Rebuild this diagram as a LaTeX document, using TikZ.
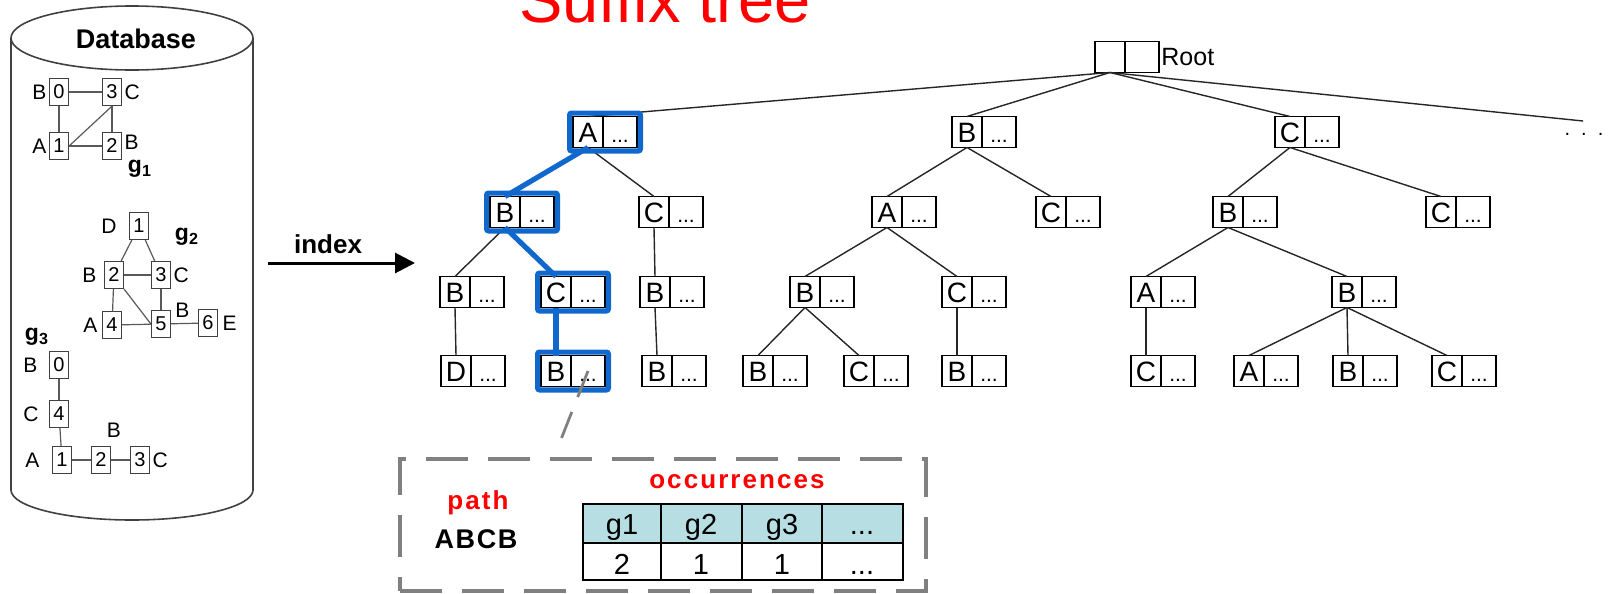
\documentclass[tikz,border=0pt]{standalone}
\usepackage{fontspec}
\setmainfont{Liberation Sans}
\usetikzlibrary{arrows.meta,positioning,fit}

\definecolor{hlblue}{RGB}{16,104,204}
\definecolor{hdrcyan}{RGB}{183,222,226}
\definecolor{boxgray}{RGB}{128,128,128}

\begin{document}
\begin{tikzpicture}[x=0.5pt,y=-0.5pt,
  lcell/.style={draw,line width=0.75pt,outer sep=0pt,inner sep=0pt,minimum width=15pt,minimum height=15.5pt,text height=10pt,text depth=0pt,font=\fontsize{14}{16}\selectfont},
  dcell/.style={lcell,minimum width=17pt,font=\fontsize{10.5}{12}\selectfont},
  branch/.style={line width=0.7pt,black!85},
  hlbranch/.style={line width=2.6pt,hlblue},
  hlbox/.style={draw=hlblue,line width=2.6pt,inner sep=1.7pt,rounded corners=1pt},
  vx/.style={draw=black!75,line width=0.6pt,inner sep=0pt,minimum width=9.5pt,minimum height=13.5pt,font=\fontsize{10}{12}\selectfont},
  vl/.style={inner sep=1pt,font=\fontsize{10.5}{12}\selectfont},
  vedge/.style={black!65,line width=0.6pt},
  gname/.style={font=\bfseries\fontsize{11.5}{13}\selectfont},
  redlbl/.style={text=red,anchor=base,font=\bfseries\fontsize{13}{16}\selectfont\addfontfeature{LetterSpace=8}},
  cellt/.style={anchor=base,inner sep=0pt,font=\fontsize{14.5}{17}\selectfont},
  tabline/.style={line width=0.75pt},
  dbox/.style={draw=boxgray,line width=1.6pt,dash pattern=on 21pt off 10pt}
]
\clip (0,0) rectangle (1608,594);

% title, partly off the top edge
\node[anchor=base,text=red,font=\fontsize{32.5}{36}\selectfont] (ttl) at (665,22) {Suffix tree};

% database cylinder
\draw[black!75,line width=0.8pt] (132,38) ellipse [x radius=60.5pt,y radius=16pt];
\draw[black!75,line width=0.8pt] (11,38) -- (11,490) arc[start angle=180,end angle=360,x radius=60.5pt,y radius=15pt] -- (253,38);
\node[anchor=base,font=\bfseries\fontsize{13.5}{16}\selectfont] (dbname) at (136,48) {Database};

% g1
\node[vx,label={[vl]left:B}] (g1-0) at (59,92) {0};
\node[vx,label={[vl]right:C}] (g1-3) at (112,92) {3};
\node[vx,label={[vl]left:A}] (g1-1) at (59,146) {1};
\node[vx,label={[vl,yshift=2pt]right:B}] (g1-2) at (112,146) {2};
\node[gname] (g1-name) at (140,169) {g\textsubscript{1}};
\draw[vedge] (g1-0) -- (g1-3);
\draw[vedge] (g1-0) -- (g1-1);
\draw[vedge] (g1-3) -- (g1-2);
\draw[vedge] (g1-1) -- (g1-2);
\draw[vedge] (g1-1.east) -- (g1-3.south);

% g2
\node[vx,label={[vl,label distance=5pt]left:D}] (g2-1) at (139,226) {1};
\node[vx,label={[vl,label distance=2.5pt]left:B}] (g2-2) at (114,275) {2};
\node[vx,label={[vl]right:C}] (g2-3) at (161,275) {3};
\node[vx,label={[vl,label distance=1pt]left:A}] (g2-4) at (112,325) {4};
\node[vx] (g2-5) at (161,324) {5};
\node[vx,label={[vl,label distance=1pt]right:E},label={[vl,xshift=-3pt,yshift=6.5pt]left:B}] (g2-6) at (208,323) {6};
\node[gname] (g2-name) at (187,237) {g\textsubscript{2}};
\draw[vedge] (g2-1) -- (g2-2);
\draw[vedge] (g2-1) -- (g2-3);
\draw[vedge] (g2-2) -- (g2-3);
\draw[vedge] (g2-2) -- (g2-4);
\draw[vedge] (g2-2.south east) -- (g2-5.west);
\draw[vedge] (g2-3) -- (g2-5);
\draw[vedge] (g2-4) -- (g2-5);
\draw[vedge] (g2-5) -- (g2-6);

% g3
\node[gname] (g3-name) at (37,337) {g\textsubscript{3}};
\node[vx,label={[vl,label distance=4.5pt]left:B}] (g3-0) at (59,365) {0};
\node[vx,label={[vl,label distance=4pt]left:C}] (g3-4) at (59,414) {4};
\node[vx,label={[vl,label distance=5pt]left:A}] (g3-1) at (62,460) {1};
\node[vx,label={[vl,label distance=3pt,xshift=6.5pt]above:B}] (g3-2) at (101,460) {2};
\node[vx,label={[vl]right:C}] (g3-3) at (140,460) {3};
\draw[vedge] (g3-0) -- (g3-4);
\draw[vedge] (g3-4) -- (g3-1);
\draw[vedge] (g3-1) -- (g3-2);
\draw[vedge] (g3-2) -- (g3-3);

% index arrow
\coordinate (ia) at (268,263);
\coordinate (ib) at (415,263);
\draw[line width=1.5pt,-{Triangle[length=10pt,width=10pt]}] (ia) -- (ib);
\node[anchor=base,font=\bfseries\fontsize{13}{15}\selectfont] (idx) at (328,253) {index};

% suffix tree
\node[lcell] (r) at (1110,57) {};
\node[dcell,right=0pt of r] (r-d) {};
\node[right=1pt of r-d,inner sep=0pt,font=\fontsize{12.5}{14}\selectfont] (rootname) {Root};
\coordinate (more-end) at (1583,121);
\node[anchor=base,inner sep=0pt,font=\fontsize{10}{12}\selectfont] (more) at (1584,135) {.\hspace{5.5pt}.\hspace{5.5pt}.};

\foreach \n/\x/\y/\t in {
  a/588/132/A, b/967/132/B, c/1290/132/C,
  ab/505/212/B, ac/654/212/C, ba/887/212/A, bc/1051/212/C, cb/1228/212/B, cc/1441/212/C,
  abb/455/292/B, abc/556/292/C, acb/655/292/B, bab/805/292/B, bac/957/292/C, cba/1146/292/A, cbb/1347/292/B,
  abbd/456/371/D, abcb/556/371/B, acbb/657/371/B, babb/758/371/B, babc/859/371/C,
  bacb/957/371/B, cbac/1146/371/C, cbba/1249/371/A, cbbb/1348/371/B, cbbc/1447/371/C}
{
  \node[lcell] (\n) at (\x,\y) {\t};
  \node[dcell,right=0pt of \n] (\n-d) {...};
}

\foreach \p/\q in {r/a, r/b, r/c, a/ac, ab/abb, ac/acb, abb/abbd, acb/acbb,
  b/ba, b/bc, ba/bab, ba/bac, bab/babb, bab/babc, bac/bacb,
  c/cb, c/cc, cb/cba, cb/cbb, cba/cbac, cbb/cbba, cbb/cbbb, cbb/cbbc}
  \draw[branch] (\p.south) -- (\q.north);
\draw[branch] (r.south) -- (more-end);

% path ABCB
\foreach \p/\q in {a/ab, ab/abc, abc/abcb}
  \draw[hlbranch] (\p.south) -- (\q.north);
\foreach \n in {a,ab,abc,abcb}
  \node[hlbox,fit=(\n)(\n-d)] (\n-hl) {};

% occurrence record of the path
\coordinate (link-end) at (556,452);
\draw[boxgray,line width=1.4pt,dash pattern=on 14pt off 8pt] (abcb-d.center) -- (link-end);
\node[dbox,minimum width=263pt,minimum height=66pt] (detail) at (663,525) {};
\node[redlbl] (pathlbl) at (478,509) {path};
\node[anchor=base,font=\bfseries\fontsize{13.5}{16}\selectfont\addfontfeature{LetterSpace=6}] (pathval) at (476,548) {ABCB};
\node[redlbl] (occlbl) at (737,488) {occurrences};

\fill[hdrcyan] (583,504) rectangle (903,543);
\draw[tabline] (583,504) rectangle (903,580);
\draw[tabline] (583,543) -- (903,543);
\foreach \x in {661,742,822}
  \draw[tabline] (\x,504) -- (\x,580);
\node[cellt] (h1) at (622,534) {g1};
\node[cellt] (h2) at (701,534) {g2};
\node[cellt] (h3) at (782,534) {g3};
\node[cellt] (h4) at (862,534) {...};
\node[cellt] (v1) at (622,574) {2};
\node[cellt] (v2) at (701,574) {1};
\node[cellt] (v3) at (782,574) {1};
\node[cellt] (v4) at (862,574) {...};
\end{tikzpicture}
\end{document}
